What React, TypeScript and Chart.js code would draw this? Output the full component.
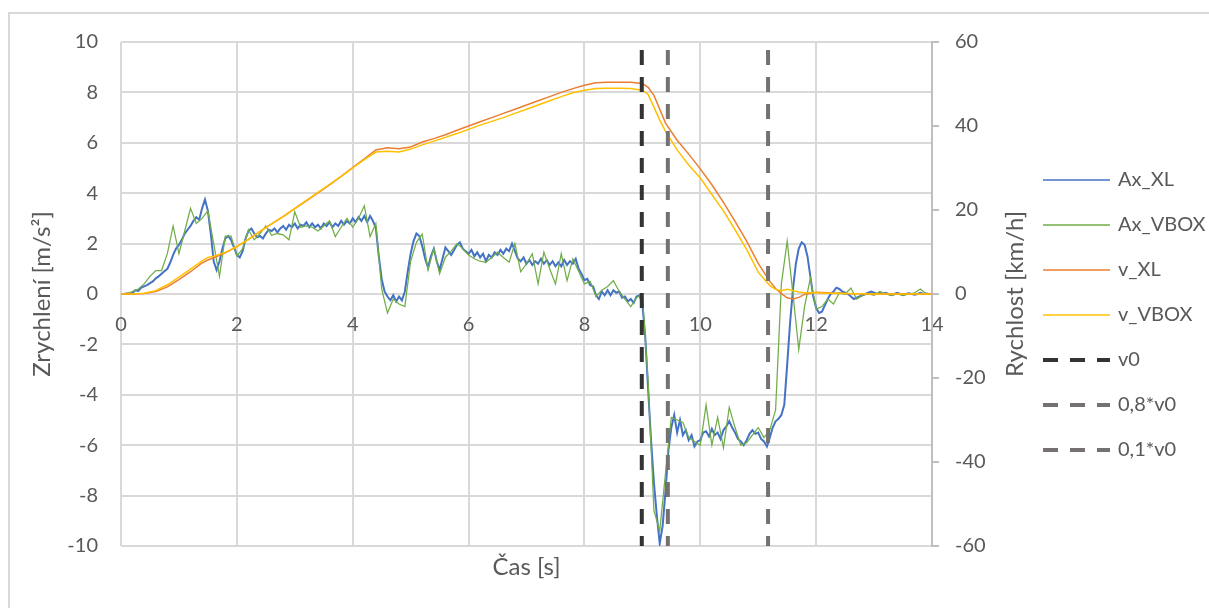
import React, { useEffect, useRef } from 'react';
import { Chart, registerables } from 'chart.js';

Chart.register(...registerables);

// ---------- data ----------
// Ax_XL sampled every 0.05 s (t = 0 ... 14 s), m/s²
const axXLStep = 0.05;
const axXL = [
  0, 0, 0.02, 0, 0.05, 0.15, 0.12, 0.25, 0.3, 0.35, 0.43, 0.5, 0.62, 0.7, 0.8, 0.9, 1.0, 1.25, 1.55, 1.8,
  1.95, 2.15, 2.4, 2.55, 2.7, 2.9, 3.05, 2.95, 3.4, 3.75, 3.3, 2.4, 1.3, 0.95, 1.3, 1.8, 2.2, 2.3, 2.15, 1.85,
  1.55, 1.45, 1.7, 2.2, 2.5, 2.6, 2.4, 2.25, 2.3, 2.2, 2.4, 2.55, 2.5, 2.6, 2.45, 2.6, 2.7, 2.55, 2.75, 2.65,
  2.8, 2.6, 2.75, 2.7, 2.85, 2.65, 2.8, 2.65, 2.75, 2.6, 2.8, 2.7, 2.85, 2.65, 2.8, 2.7, 2.9, 2.75, 2.9, 2.8,
  3.0, 2.85, 3.05, 2.9, 3.1, 2.85, 3.1, 2.9, 2.6, 1.5, 0.6, 0.1, -0.1, -0.25, -0.05, -0.3, -0.1, -0.25, 0.1, 0.9,
  1.6, 2.1, 2.4, 2.3, 1.9, 1.4, 1.05, 1.5, 1.8, 1.3, 0.95, 1.4, 1.85, 1.7, 1.55, 1.75, 1.95, 2.05, 1.8, 1.7,
  1.6, 1.75, 1.5, 1.65, 1.45, 1.6, 1.3, 1.55, 1.45, 1.65, 1.55, 1.75, 1.6, 1.8, 1.7, 2.0, 1.7, 1.4, 1.3, 1.45,
  1.2, 1.35, 1.15, 1.3, 1.2, 1.4, 1.2, 1.35, 1.15, 1.3, 1.1, 1.25, 1.1, 1.35, 1.15, 1.3, 1.2, 1.4, 1.0, 0.8,
  0.55, 0.6, 0.35, 0.3, -0.05, -0.2, 0.1, -0.05, 0.15, -0.05, 0.15, 0.05, 0.1, -0.15, -0.1, -0.3, -0.2, -0.35, -0.1, -0.05,
  -0.4, -1.7, -3.8, -5.8, -7.5, -8.8, -9.9, -9.2, -7.8, -6.2, -5.3, -4.8, -5.5, -5.0, -5.6, -5.4, -5.8, -5.6, -6.05, -5.85,
  -5.8, -5.5, -5.45, -5.65, -5.35, -5.6, -5.5, -5.75, -5.4, -5.25, -5.05, -5.3, -5.5, -5.75, -5.85, -6.0, -5.8, -5.55, -5.4, -5.55,
  -5.5, -5.75, -5.85, -6.05, -5.7, -5.3, -5.05, -4.95, -4.8, -4.4, -2.8, -1.15, 0.2, 1.2, 1.8, 2.05, 1.95, 1.5, 0.7, -0.1,
  -0.55, -0.75, -0.7, -0.45, -0.2, 0, 0.1, 0.25, 0.2, 0.1, 0.05, 0, -0.1, -0.2, -0.15, -0.1, -0.05, 0, 0.05, 0.1,
  0.05, 0, 0.05, 0, 0.05, 0, -0.05, 0, 0.05, 0, -0.05, 0, 0.03, 0, -0.03, 0, 0.05, 0, 0.02, 0,
  0,
];

// Ax_VBOX sampled every 0.1 s (t = 0 ... 14 s), m/s²
const axVBOXStep = 0.1;
const axVBOX = [
  0, 0.02, 0.1, 0.2, 0.4, 0.7, 0.93, 0.93, 1.6, 2.7,
  1.6, 2.5, 3.4, 2.8, 3.0, 3.3, 2.0, 0.7, 2.3, 2.3,
  1.5, 1.8, 2.55, 2.15, 2.4, 2.7, 2.33, 2.4, 2.35, 2.15,
  3.26, 2.65, 2.7, 2.65, 2.5, 2.7, 2.9, 2.28, 2.65, 3.0,
  2.65, 3.0, 3.5, 2.28, 2.8, 0.2, -0.75, -0.2, -0.4, -0.5,
  1.3, 2.05, 2.38, 0.95, 1.8, 0.8, 1.46, 1.7, 2.0, 1.8,
  1.55, 1.4, 1.3, 1.26, 1.45, 1.66, 1.45, 1.26, 2.0, 0.88,
  1.2, 1.6, 0.4, 1.66, 1.0, 0.4, 1.6, 0.53, 1.4, 0.9,
  0.4, 0.5, -0.1, 0.15, 0.3, 0.53, 0.1, -0.2, -0.5, -0.15,
  0.0, -3.5, -8.6, -9.4, -7.1, -4.9, -5.0, -5.1, -5.7, -5.85,
  -6.0, -4.4, -6.0, -4.9, -6.1, -4.5, -5.3, -6.0, -5.9, -5.6,
  -5.3, -5.7, -5.4, -4.6, 0.4, 2.1, 0.0, -2.2, -0.5, 0.63,
  -0.6, -0.5, -0.2, -0.4, 0.05, 0.0, 0.24, -0.2, -0.05, 0.0,
  -0.05, 0.1, 0.0, -0.05, 0.0, -0.05, 0.0, 0.05, 0.2, 0.0,
  0.0,
];

// speeds (km/h)
const speedTime = [
  0, 0.2, 0.4, 0.6, 0.8, 1.0, 1.2, 1.4, 1.5, 1.6, 1.8, 2.0, 2.2, 2.4, 2.6, 2.8, 3.0, 3.2, 3.4, 3.6, 3.8,
  4.0, 4.2, 4.4, 4.6, 4.8, 5.0, 5.2, 5.4, 5.6, 5.8, 6.0, 6.2, 6.4, 6.6, 6.8, 7.0, 7.2, 7.4, 7.6, 7.8,
  8.0, 8.2, 8.4, 8.6, 8.8, 9.0, 9.1, 9.2, 9.3, 9.4, 9.6, 9.8, 10.0, 10.2, 10.4, 10.6, 10.8, 11.0, 11.2,
  11.3, 11.4, 11.5, 11.6, 11.7, 11.8, 12.0, 12.2, 12.5, 13.0, 13.5, 14.0,
];
const vXL = [
  0, 0, 0.1, 0.6, 1.7, 3.4, 5.3, 7.4, 8.1, 8.6, 9.8, 11.3, 13.0, 14.9, 16.7, 18.4, 20.3, 22.2, 24.1, 26.0, 28.0,
  30.1, 32.2, 34.3, 34.8, 34.6, 35.0, 36.2, 37.0, 37.9, 39.0, 40.0, 41.0, 42.0, 43.0, 44.0, 45.0, 46.0, 47.0, 48.0, 48.9,
  49.7, 50.3, 50.4, 50.4, 50.4, 50.1, 49.2, 47.3, 44.0, 40.7, 36.6, 33.3, 29.8, 26.0, 21.8, 17.3, 12.6, 7.3, 3.0,
  1.3, 0.1, -0.9, -1.2, -0.8, -0.1, 0.4, 0.3, 0.1, 0, 0, 0,
];
const vVBOX = [
  0, 0, 0.2, 0.8, 2.2, 4.0, 5.9, 7.9, 8.7, 9.0, 9.9, 11.3, 13.0, 14.9, 16.7, 18.5, 20.4, 22.3, 24.2, 26.1, 28.0,
  30.0, 32.0, 33.8, 34.0, 33.8, 34.5, 35.5, 36.4, 37.3, 38.2, 39.2, 40.2, 41.1, 42.0, 43.0, 44.0, 45.0, 46.0, 47.0, 47.9,
  48.5, 48.9, 49.0, 49.0, 48.9, 48.5, 47.5, 44.5, 41.4, 38.7, 34.3, 30.7, 27.6, 23.7, 19.8, 15.3, 10.6, 5.2, 2.0,
  1.1, 0.8, 1.1, 0.8, 0.5, 0.3, 0.3, 0.2, 0.1, 0, 0, 0,
];

// vertical marker lines (s)
const markerLabels = ['v0', '0,8*v0', '0,1*v0'];
const markerTimes = [8.99, 9.44, 11.17];
const markerColors = ['#333333', '#767171', '#767171'];

// axes
const xMin = 0, xMax = 14, xStep = 2;
const accMin = -10, accMax = 10, accStep = 2;
const spdMin = -60, spdMax = 60, spdStep = 20;

const FONT = 'Lato';
const TEXT = '#595959';
const GRID = '#d9d9d9';
const TICK_SIZE = 20;
const TITLE_SIZE = 24;

const round2 = (v: number) => Math.round(v * 100) / 100;

const extrasPlugin = {
  id: 'extras',
  beforeDraw(chart: any) {
    const ctx = chart.ctx;
    ctx.save();
    ctx.strokeStyle = '#d9d9d9';
    ctx.lineWidth = 2;
    ctx.strokeRect(9, 13, 1400, 900);
    ctx.restore();
  },
  afterDraw(chart: any) {
    const ctx = chart.ctx;
    const area = chart.chartArea;
    const y1 = chart.scales.y1;
    // right axis title (reads bottom-to-top)
    ctx.save();
    ctx.translate(y1.right - 17, (area.top + area.bottom) / 2);
    ctx.rotate(-Math.PI / 2);
    ctx.font = `${TITLE_SIZE}px ${FONT}`;
    ctx.fillStyle = TEXT;
    ctx.textAlign = 'center';
    ctx.textBaseline = 'middle';
    ctx.fillText('Rychlost [km/h]', 0, 0);
    ctx.restore();
    // legend
    const x0 = y1.right + 11;
    chart.data.datasets.forEach((ds: any, i: number) => {
      const y = 180 + i * 45;
      ctx.save();
      ctx.strokeStyle = ds.borderColor;
      ctx.lineWidth = ds.borderWidth > 2 ? ds.borderWidth : 1.5;
      ctx.setLineDash(ds.borderDash || []);
      ctx.beginPath();
      ctx.moveTo(x0, y);
      ctx.lineTo(x0 + 67, y);
      ctx.stroke();
      ctx.setLineDash([]);
      ctx.font = `${TICK_SIZE}px ${FONT}`;
      ctx.fillStyle = TEXT;
      ctx.textAlign = 'left';
      ctx.textBaseline = 'middle';
      ctx.fillText(ds.label, x0 + 75, y);
      ctx.restore();
    });
  },
};

export default function App() {
  const ref = useRef<HTMLCanvasElement | null>(null);

  useEffect(() => {
    if (!ref.current) return;
    const lineBase = { pointRadius: 0, pointHoverRadius: 0, tension: 0, fill: false };
    const datasets: any[] = [
      {
        ...lineBase, label: 'Ax_XL', yAxisID: 'y', order: 6,
        data: axXL.map((v, i) => ({ x: round2(i * axXLStep), y: v })),
        borderColor: '#4472C4', borderWidth: 2,
      },
      {
        ...lineBase, label: 'Ax_VBOX', yAxisID: 'y', order: 5,
        data: axVBOX.map((v, i) => ({ x: round2(i * axVBOXStep), y: v })),
        borderColor: '#70AD47', borderWidth: 1.25,
      },
      {
        ...lineBase, label: 'v_XL', yAxisID: 'y1', order: 4,
        data: vXL.map((v, i) => ({ x: speedTime[i], y: v })),
        borderColor: '#ED7D31', borderWidth: 1.5,
      },
      {
        ...lineBase, label: 'v_VBOX', yAxisID: 'y1', order: 3,
        data: vVBOX.map((v, i) => ({ x: speedTime[i], y: v })),
        borderColor: '#FFC000', borderWidth: 1.5,
      },
      ...markerTimes.map((t, i) => ({
        ...lineBase, label: markerLabels[i], yAxisID: 'y', order: 2 - i,
        data: [{ x: t, y: accMax }, { x: t, y: accMin }],
        borderColor: markerColors[i], borderWidth: 4,
        borderDash: [15, 12], borderDashOffset: 19,
      })),
    ];

    const chart = new Chart(ref.current, {
      type: 'line',
      data: { datasets },
      plugins: [extrasPlugin],
      options: {
        animation: false,
        responsive: false,
        devicePixelRatio: 1,
        layout: { padding: { top: 42, right: 177, bottom: 0, left: 0 } },
        plugins: { legend: { display: false }, tooltip: { enabled: false } },
        scales: {
          x: {
            type: 'linear', min: xMin, max: xMax,
            position: { y: 0 } as any,
            ticks: { stepSize: xStep, color: TEXT, font: { family: FONT, size: TICK_SIZE }, padding: 19, maxRotation: 0 },
            grid: { color: GRID, lineWidth: 2, drawTicks: false },
            border: { display: false },
          },
          x2: {
            type: 'linear', axis: 'x', position: 'bottom', min: xMin, max: xMax,
            ticks: { display: false },
            grid: { display: false, drawTicks: false },
            border: { display: false },
            title: { display: true, text: 'Čas [s]', color: TEXT, font: { family: FONT, size: TITLE_SIZE }, padding: { top: 0, bottom: 26 } },
            afterFit: (s: any) => { s.height = 62; },
          } as any,
          y: {
            type: 'linear', position: 'left', min: accMin, max: accMax,
            ticks: { stepSize: accStep, color: TEXT, font: { family: FONT, size: TICK_SIZE }, padding: 23 },
            grid: { color: GRID, lineWidth: 2, drawTicks: false },
            border: { display: false },
            title: { display: true, text: 'Zrychlení [m/s²]', color: TEXT, font: { family: FONT, size: TITLE_SIZE }, padding: { top: 28, bottom: 0 } },
            afterFit: (s: any) => { s.width = 121; },
          },
          y1: {
            type: 'linear', position: 'right', min: spdMin, max: spdMax,
            ticks: { stepSize: spdStep, color: TEXT, font: { family: FONT, size: TICK_SIZE }, padding: 16 },
            grid: { drawOnChartArea: false, drawTicks: true, tickLength: 7, color: '#bfbfbf', lineWidth: 2 },
            border: { display: true, color: '#bfbfbf', width: 2 },
            afterFit: (s: any) => { s.width = 100; },
          },
        },
      } as any,
    });
    return () => chart.destroy();
  }, []);

  return (
    <div style={{ position: 'absolute', left: 0, top: 0, width: 1209, height: 608, background: '#fff' }}>
      <canvas ref={ref} width={1209} height={608} style={{ width: 1209, height: 608, display: 'block' }} />
    </div>
  );
}
